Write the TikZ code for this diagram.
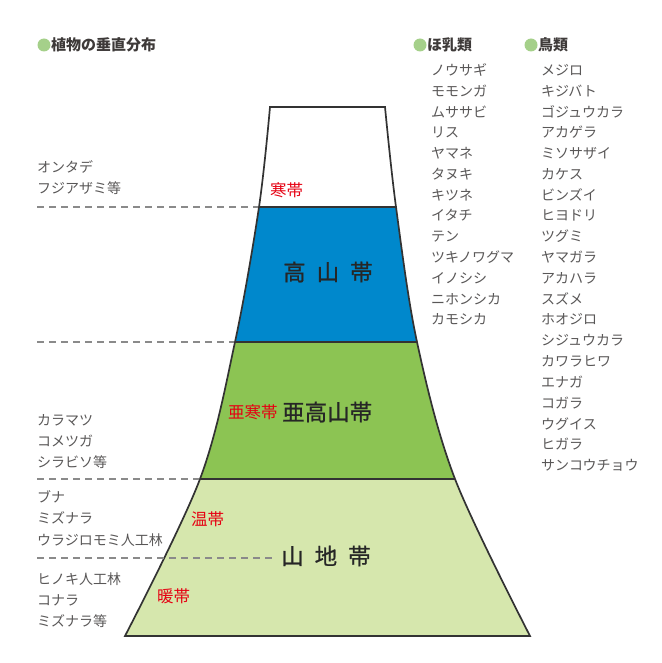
\documentclass[tikz,border=0pt]{standalone}
\usepackage{fontspec}
\setmainfont{Noto Sans CJK JP}
\newfontfamily\beltfont[FakeBold=0.8]{Noto Sans CJK JP}
\begin{document}
\begin{tikzpicture}[x=1pt,y=-1pt,
  txt/.style={anchor=west,inner sep=0pt,text=listgray,font=\fontsize{14}{14}\selectfont},
  head/.style={anchor=west,inner sep=0pt,text=headgray,font=\fontsize{15}{15}\selectfont\bfseries},
  dot/.style={circle,fill=dotgreen,inner sep=0pt,minimum size=13pt},
  zone/.style={inner sep=0pt,text=zonered,font=\fontsize{16.5}{17}\selectfont},
  belt/.style={inner sep=0pt,text=black!85,font=\beltfont\fontsize{22.5}{23}\selectfont},
  guide/.style={draw=dashgray,line width=1.4pt,dash pattern=on 7pt off 5pt},
  edge/.style={draw=black!80,line width=1.7pt}
]
\definecolor{listgray}{HTML}{595757}
\definecolor{headgray}{HTML}{3E3A39}
\definecolor{dotgreen}{HTML}{A5D08A}
\definecolor{zonered}{HTML}{E60012}
\definecolor{dashgray}{HTML}{8A8A8A}
\definecolor{alpblue}{HTML}{0088CC}
\definecolor{subgreen}{HTML}{8CC453}
\definecolor{montgreen}{HTML}{D6E7AD}
\useasboundingbox (0,0) rectangle (661,663);
\def\mtn{plot[smooth,tension=0.55] coordinates {(125,636) (200,479) (235,342) (259,207) (270,107)} -- plot[smooth,tension=0.55] coordinates {(385,107) (396,207) (417,342) (455,479) (530,636)} -- cycle}
% bands
\begin{scope}
  \clip \mtn;
  \fill[white] (0,100) rectangle (661,207);
  \fill[alpblue] (0,207) rectangle (661,342);
  \fill[subgreen] (0,342) rectangle (661,479);
  \fill[montgreen] (0,479) rectangle (661,640);
  \draw[black!80,line width=1.5pt] (0,207) -- (661,207) (0,342) -- (661,342) (0,479) -- (661,479);
\end{scope}
\draw[edge,line join=miter] \mtn;
% guides
\coordinate (g1a) at (37,207); \coordinate (g1b) at (258,207);
\coordinate (g2a) at (37,342); \coordinate (g2b) at (234,342);
\coordinate (g3a) at (37,479); \coordinate (g3b) at (199,479);
\coordinate (g4a) at (37,558); \coordinate (g4b) at (274,558);
\draw[guide] (g1a) -- (g1b);
\draw[guide] (g2a) -- (g2b);
\draw[guide] (g3a) -- (g3b);
\draw[guide] (g4a) -- (g4b);
% headings
\node[dot] (d1) at (44,45) {};
\node[head] (h1) at (51,45) {植物の垂直分布};
\node[dot] (d2) at (420,45) {};
\node[head] (h2) at (427,45) {ほ乳類};
\node[dot] (d3) at (531,45) {};
\node[head] (h3) at (538,45) {鳥類};
% mammals
\foreach \t [count=\i from 0] in {ノウサギ,モモンガ,ムササビ,リス,ヤマネ,タヌキ,キツネ,イタチ,テン,ツキノワグマ,イノシシ,ニホンシカ,カモシカ}
  \node[txt] (m\i) at (431,70+20.8*\i) {\t};
% birds
\foreach \t [count=\i from 0] in {メジロ,キジバト,ゴジュウカラ,アカゲラ,ミソサザイ,カケス,ビンズイ,ヒヨドリ,ツグミ,ヤマガラ,アカハラ,スズメ,ホオジロ,シジュウカラ,カワラヒワ,エナガ,コガラ,ウグイス,ヒガラ,サンコウチョウ}
  \node[txt] (b\i) at (541,70+20.8*\i) {\t};
% plants
\node[txt] (p1) at (37,167) {オンタデ};
\node[txt] (p2) at (37,188) {フジアザミ等};
\node[txt] (p3) at (37,420) {カラマツ};
\node[txt] (p4) at (37,441) {コメツガ};
\node[txt] (p5) at (37,462) {シラビソ等};
\node[txt] (p6) at (37,497) {ブナ};
\node[txt] (p7) at (37,518) {ミズナラ};
\node[txt] (p8) at (37,540) {ウラジロモミ人工林};
\node[txt] (p9) at (37,579) {ヒノキ人工林};
\node[txt] (p10) at (37,600) {コナラ};
\node[txt] (p11) at (37,621) {ミズナラ等};
% zones
\node[zone,anchor=west] (z1) at (270,190) {寒帯};
\node[zone,anchor=west] (z2) at (228,412) {亜寒帯};
\node[zone,anchor=west] (z3) at (191,519) {温帯};
\node[zone,anchor=west] (z4) at (157,596) {暖帯};
% belts
\node[belt,anchor=west] (k1) at (283,272) {高\kern11pt 山\kern11pt 帯};
\node[belt,anchor=west] (k2) at (282,412) {亜高山帯};
\node[belt,anchor=west] (k3) at (281,556) {山\kern11pt 地\kern11pt 帯};
\end{tikzpicture}
\end{document}
